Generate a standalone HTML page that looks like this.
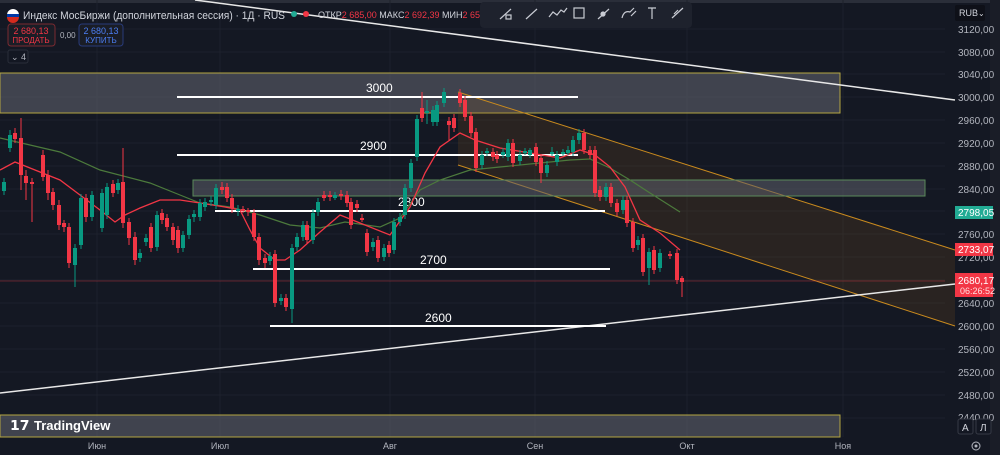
<!DOCTYPE html>
<html><head><meta charset="utf-8"><style>
html,body{margin:0;padding:0;background:#131722;}
body{width:1000px;height:455px;overflow:hidden;position:relative;font-family:"Liberation Sans",sans-serif;}
svg{position:absolute;left:0;top:0}
</style></head><body>
<svg width="1000" height="455" viewBox="0 0 1000 455" xmlns="http://www.w3.org/2000/svg">
<rect x="0" y="0" width="1000" height="455" fill="#141823"/>
<rect x="0" y="0" width="1000" height="3" fill="#2a2e39"/>
<rect x="990" y="0" width="10" height="455" fill="#1a1d27"/>
<g stroke="#1d212c" stroke-width="1">
<line x1="0" y1="29" x2="945" y2="29"/><line x1="0" y1="52" x2="945" y2="52"/><line x1="0" y1="74" x2="945" y2="74"/>
<line x1="0" y1="97" x2="945" y2="97"/><line x1="0" y1="120" x2="945" y2="120"/><line x1="0" y1="143" x2="945" y2="143"/>
<line x1="0" y1="166" x2="945" y2="166"/><line x1="0" y1="189" x2="945" y2="189"/><line x1="0" y1="211" x2="945" y2="211"/>
<line x1="0" y1="234" x2="945" y2="234"/><line x1="0" y1="257" x2="945" y2="257"/><line x1="0" y1="280" x2="945" y2="280"/>
<line x1="0" y1="303" x2="945" y2="303"/><line x1="0" y1="326" x2="945" y2="326"/><line x1="0" y1="349" x2="945" y2="349"/>
<line x1="0" y1="372" x2="945" y2="372"/><line x1="0" y1="395" x2="945" y2="395"/><line x1="0" y1="418" x2="945" y2="418"/>
<line x1="97" y1="0" x2="97" y2="437"/><line x1="220" y1="0" x2="220" y2="437"/><line x1="390" y1="0" x2="390" y2="437"/>
<line x1="535" y1="0" x2="535" y2="437"/><line x1="687" y1="0" x2="687" y2="437"/><line x1="843" y1="0" x2="843" y2="437"/>
</g>
<rect x="0" y="73" width="840" height="40" fill="#5d606b" fill-opacity="0.6" stroke="#b5a642" stroke-width="1"/>
<rect x="0" y="415" width="840" height="22" fill="#5d606b" fill-opacity="0.6" stroke="#b5a642" stroke-width="1"/>
<polygon points="458,92 955,250 955,326 458,165" fill="#8a5a1a" fill-opacity="0.18"/>
<line x1="458" y1="92" x2="955" y2="250" stroke="#c98a1e" stroke-width="1"/>
<line x1="458" y1="165" x2="955" y2="326" stroke="#c98a1e" stroke-width="1"/>
<rect x="193" y="180" width="732" height="16" fill="#5d606b" fill-opacity="0.55" stroke="#5a8a5a" stroke-width="1"/>
<line x1="0" y1="281" x2="945" y2="281" stroke="#f23645" stroke-opacity="0.35" stroke-width="1"/>
<line x1="195" y1="0" x2="955" y2="100" stroke="#e8e8e8" stroke-width="1.5"/>
<line x1="0" y1="393" x2="955" y2="284" stroke="#e8e8e8" stroke-width="1.5"/>
<g stroke="#ffffff" stroke-width="2">
<line x1="177" y1="97" x2="578" y2="97"/><line x1="177" y1="155" x2="578" y2="155"/>
<line x1="215" y1="211" x2="605" y2="211"/><line x1="253" y1="269" x2="610" y2="269"/>
<line x1="270" y1="326" x2="606" y2="326"/>
</g>
<g fill="#ffffff" font-size="12" font-family="Liberation Sans,sans-serif">
<text x="366" y="92">3000</text><text x="360" y="150">2900</text><text x="398" y="206">2800</text>
<text x="420" y="264">2700</text><text x="425" y="322">2600</text>
</g>
<polyline fill="none" stroke="#4c7a3c" stroke-width="1.2" points="0,138 30,145 60,152 100,170 150,183 180,195 200,203 230,207 260,215 290,225 320,228 345,222 380,227 400,218 420,190 440,180 470,170 500,167 540,163 570,160 590,159 610,168 630,180 650,193 680,212"/>
<polyline fill="none" stroke="#f23645" stroke-width="1.3" points="0,170 15,162 40,172 60,180 80,195 100,210 115,222 125,215 140,208 160,200 180,200 200,203 225,207 240,210 250,230 260,248 275,260 285,260 300,250 320,232 340,215 360,223 390,235 410,207 425,173 440,147 460,133 475,140 500,148 530,153 560,158 580,150 595,155 610,167 625,187 640,220 660,233 680,250"/>
<g>
<g fill="#089981" stroke="#089981">
<path d="M4 178V195M10 130V152M75 244V287M81 194V249M92 191V221M102 189V232M107 183V219M118 179V194M140 249V262M146 234V246M157 211V251M183 231V252M189 215V239M194 210V222M200 199V221M205 198V211M211 196V206M216 184V209M238 205V216M270 252V265M281 294V305M292 244V323M297 233V251M303 221V241M313 209V244M318 198V216M335 192V200M373 238V251M384 244V261M394 218V254M400 213V226M405 184V219M411 159V192M417 115V161M427 100V124M433 106V126M437 101V126M444 88V107M482 151V169M487 148V156M503 148V158M508 139V161M520 150V165M525 148V155M530 148V158M547 161V177M552 147V156M557 151V166M563 149V156M568 146V155M573 136V156M579 129V144M606 183V201M623 196V214M638 236V250M649 248V285M660 249V272"/>
</g>
<g fill="#089981">
<rect x="2" y="182" width="4" height="9"/><rect x="8" y="135" width="4" height="13"/><rect x="73" y="248" width="4" height="17"/><rect x="79" y="198" width="4" height="47"/><rect x="90" y="195" width="4" height="22"/><rect x="100" y="193" width="4" height="35"/><rect x="105" y="187" width="4" height="28"/><rect x="116" y="183" width="4" height="7"/><rect x="138" y="253" width="4" height="5"/><rect x="144" y="238" width="4" height="4"/><rect x="155" y="215" width="4" height="32"/><rect x="181" y="235" width="4" height="13"/><rect x="187" y="219" width="4" height="16"/><rect x="192" y="214" width="4" height="3"/><rect x="198" y="203" width="4" height="14"/><rect x="203" y="202" width="4" height="5"/><rect x="209" y="200" width="4" height="2"/><rect x="214" y="188" width="4" height="17"/><rect x="236" y="209" width="4" height="2"/><rect x="268" y="256" width="4" height="5"/><rect x="279" y="298" width="4" height="3"/><rect x="290" y="248" width="4" height="61"/><rect x="295" y="237" width="4" height="10"/><rect x="301" y="225" width="4" height="12"/><rect x="311" y="213" width="4" height="27"/><rect x="316" y="202" width="4" height="10"/><rect x="333" y="195" width="4" height="3"/><rect x="371" y="242" width="4" height="5"/><rect x="382" y="248" width="4" height="9"/><rect x="392" y="222" width="4" height="28"/><rect x="398" y="217" width="4" height="5"/><rect x="403" y="188" width="4" height="27"/><rect x="409" y="163" width="4" height="25"/><rect x="415" y="119" width="4" height="38"/><rect x="425" y="111" width="4" height="2"/><rect x="431" y="110" width="4" height="12"/><rect x="435" y="105" width="4" height="17"/><rect x="442" y="92" width="4" height="11"/><rect x="480" y="155" width="4" height="10"/><rect x="485" y="151" width="4" height="2"/><rect x="501" y="152" width="4" height="3"/><rect x="506" y="143" width="4" height="14"/><rect x="518" y="155" width="4" height="6"/><rect x="523" y="151" width="4" height="2"/><rect x="528" y="150" width="4" height="5"/><rect x="545" y="165" width="4" height="8"/><rect x="550" y="152" width="4" height="2"/><rect x="555" y="155" width="4" height="7"/><rect x="561" y="152" width="4" height="2"/><rect x="566" y="150" width="4" height="3"/><rect x="571" y="140" width="4" height="12"/><rect x="577" y="133" width="4" height="7"/><rect x="604" y="187" width="4" height="10"/><rect x="621" y="200" width="4" height="10"/><rect x="636" y="240" width="4" height="5"/><rect x="647" y="252" width="4" height="16"/><rect x="658" y="253" width="4" height="15"/>
</g>
<g stroke="#f23645">
<path d="M15 128V143M21 118V190M26 170V200M32 178V222M43 150V181M48 170V200M53 188V210M59 200V230M64 220V232M69 223V268M86 194V222M113 180V197M123 148V228M129 218V245M135 232V265M151 223V252M162 209V224M167 214V231M173 223V245M178 226V253M222 182V194M227 183V202M232 194V213M243 206V213M248 208V216M254 209V241M259 233V265M265 254V268M275 250V307M286 294V311M307 221V244M324 191V201M330 191V201M341 190V200M347 191V207M351 198V229M357 200V212M362 214V222M367 229V256M378 236V262M389 241V257M422 92V122M449 117V140M454 114V132M460 89V107M465 96V121M471 112V137M476 128V172M493 148V161M497 151V163M513 139V167M536 143V166M541 154V183M584 129V154M590 146V159M595 146V197M600 186V201M611 183V207M617 199V216M627 196V227M633 218V252M643 234V276M654 246V274M670 251V259M677 249V284M682 276V297"/>
</g>
<g fill="#f23645">
<rect x="13" y="133" width="4" height="6"/><rect x="19" y="138" width="4" height="37"/><rect x="24" y="176" width="4" height="7"/><rect x="30" y="182" width="4" height="2"/><rect x="41" y="155" width="4" height="22"/><rect x="46" y="175" width="4" height="18"/><rect x="51" y="192" width="4" height="13"/><rect x="57" y="205" width="4" height="20"/><rect x="62" y="223" width="4" height="4"/><rect x="67" y="227" width="4" height="36"/><rect x="84" y="198" width="4" height="19"/><rect x="111" y="184" width="4" height="9"/><rect x="121" y="182" width="4" height="41"/><rect x="127" y="222" width="4" height="16"/><rect x="133" y="237" width="4" height="23"/><rect x="149" y="227" width="4" height="21"/><rect x="160" y="213" width="4" height="7"/><rect x="165" y="218" width="4" height="9"/><rect x="171" y="227" width="4" height="13"/><rect x="176" y="230" width="4" height="18"/><rect x="220" y="187" width="4" height="3"/><rect x="225" y="187" width="4" height="11"/><rect x="230" y="198" width="4" height="10"/><rect x="241" y="209" width="4" height="2"/><rect x="246" y="210" width="4" height="2"/><rect x="252" y="213" width="4" height="24"/><rect x="257" y="237" width="4" height="23"/><rect x="263" y="258" width="4" height="5"/><rect x="273" y="254" width="4" height="49"/><rect x="284" y="298" width="4" height="9"/><rect x="305" y="225" width="4" height="15"/><rect x="322" y="195" width="4" height="3"/><rect x="328" y="195" width="4" height="2"/><rect x="339" y="194" width="4" height="2"/><rect x="345" y="195" width="4" height="8"/><rect x="349" y="202" width="4" height="23"/><rect x="355" y="204" width="4" height="4"/><rect x="360" y="218" width="4" height="2"/><rect x="365" y="233" width="4" height="19"/><rect x="376" y="240" width="4" height="18"/><rect x="387" y="245" width="4" height="8"/><rect x="420" y="108" width="4" height="10"/><rect x="447" y="121" width="4" height="4"/><rect x="452" y="118" width="4" height="10"/><rect x="458" y="93" width="4" height="10"/><rect x="463" y="100" width="4" height="17"/><rect x="469" y="116" width="4" height="17"/><rect x="474" y="132" width="4" height="36"/><rect x="491" y="152" width="4" height="5"/><rect x="495" y="155" width="4" height="4"/><rect x="511" y="143" width="4" height="20"/><rect x="534" y="147" width="4" height="15"/><rect x="539" y="158" width="4" height="15"/><rect x="582" y="133" width="4" height="17"/><rect x="588" y="150" width="4" height="5"/><rect x="593" y="150" width="4" height="43"/><rect x="598" y="190" width="4" height="7"/><rect x="609" y="187" width="4" height="16"/><rect x="615" y="203" width="4" height="9"/><rect x="625" y="200" width="4" height="23"/><rect x="631" y="222" width="4" height="26"/><rect x="641" y="238" width="4" height="34"/><rect x="652" y="250" width="4" height="20"/><rect x="668" y="254" width="4" height="2"/><rect x="675" y="253" width="4" height="27"/><rect x="680" y="278" width="4" height="4"/>
</g>
</g>
<g fill="#b2b5be" font-size="10" font-family="Liberation Sans,sans-serif">
<text x="958" y="33">3120,00</text><text x="958" y="56">3080,00</text><text x="958" y="78">3040,00</text>
<text x="958" y="101">3000,00</text><text x="958" y="124">2960,00</text><text x="958" y="147">2920,00</text>
<text x="958" y="170">2880,00</text><text x="958" y="193">2840,00</text><text x="958" y="238">2760,00</text>
<text x="958" y="261">2720,00</text><text x="958" y="307">2640,00</text><text x="958" y="330">2600,00</text>
<text x="958" y="353">2560,00</text><text x="958" y="376">2520,00</text><text x="958" y="399">2480,00</text>
<text x="958" y="421">2440,00</text>
</g>
<rect x="955" y="5" width="30" height="16" rx="2" fill="#0e1018"/>
<text x="959" y="16" fill="#d1d4dc" font-size="9">RUB</text><text x="978" y="16" fill="#d1d4dc" font-size="8">⌄</text>
<rect x="955" y="206" width="38" height="13" fill="#22ab94"/><text x="958" y="216" fill="#fff" font-size="10">2798,05</text>
<rect x="955" y="243" width="38" height="13" fill="#f23645"/><text x="958" y="253" fill="#fff" font-size="10">2733,07</text>
<rect x="955" y="273" width="38" height="24" fill="#f23645"/><text x="958" y="284" fill="#fff" font-size="10">2680,17</text><text x="960" y="294" fill="#ffdede" font-size="9">06:26:52</text>
<rect x="958" y="419" width="15" height="15" rx="2" fill="#131722" stroke="#363a45"/><text x="962" y="431" fill="#d1d4dc" font-size="10">A</text>
<rect x="976" y="419" width="15" height="15" rx="2" fill="#131722" stroke="#363a45"/><text x="980" y="431" fill="#d1d4dc" font-size="10">Л</text>
<circle cx="976" cy="446" r="4" fill="none" stroke="#b2b5be"/><circle cx="976" cy="446" r="1.5" fill="#b2b5be"/>
<g fill="#b2b5be" font-size="9" font-family="Liberation Sans,sans-serif" text-anchor="middle">
<text x="97" y="449">Июн</text><text x="220" y="449">Июл</text><text x="390" y="449">Авг</text>
<text x="535" y="449">Сен</text><text x="687" y="449">Окт</text><text x="843" y="449">Ноя</text>
</g>
<text x="10" y="430" fill="#ffffff" font-size="14" font-weight="bold">𝟭𝟳</text>
<text x="34" y="430" fill="#ffffff" font-size="13" font-weight="bold">TradingView</text>
<circle cx="13" cy="15" r="6" fill="#fff"/><path d="M7 15h12v2a6 6 0 0 1-12 0z" fill="#d52b1e"/><rect x="7" y="14" width="12" height="3" fill="#0039a6"/>
<text x="23" y="19" fill="#d1d4dc" font-size="11" textLength="262" lengthAdjust="spacingAndGlyphs">Индекс МосБиржи (дополнительная сессия) · 1Д · RUS</text>
<circle cx="294" cy="14" r="3" fill="#22ab94"/><circle cx="306" cy="14" r="3" fill="#f23645"/>
<text x="318" y="18" fill="#d1d4dc" font-size="9">ОТКР<tspan fill="#f23645">2 685,00</tspan> МАКС<tspan fill="#f23645">2 692,39</tspan> МИН<tspan fill="#f23645">2 651,1</tspan></text>
<rect x="8" y="24" width="47" height="22" rx="3" fill="#1a1d26" stroke="#7a2a30"/>
<text x="31" y="34" fill="#f23645" font-size="9" text-anchor="middle">2 680,13</text><text x="31" y="43" fill="#f23645" font-size="8" text-anchor="middle">ПРОДАТЬ</text>
<text x="60" y="38" fill="#b2b5be" font-size="8">0,00</text>
<rect x="79" y="24" width="44" height="22" rx="3" fill="#1a1d26" stroke="#283a7a"/>
<text x="101" y="34" fill="#4c7ef3" font-size="9" text-anchor="middle">2 680,13</text><text x="101" y="43" fill="#4c7ef3" font-size="8" text-anchor="middle">КУПИТЬ</text>
<rect x="8" y="50" width="20" height="13" rx="2" fill="#131722" stroke="#2a2e39"/><text x="11" y="60" fill="#b2b5be" font-size="9">⌄ 4</text>
<rect x="480" y="2" width="212" height="26" rx="4" fill="#1e222d"/>
<g stroke="#c8cbd3" stroke-width="1.2" fill="none">
<line x1="500" y1="19" x2="511" y2="9"/><rect x="506" y="15" width="5" height="4"/>
<line x1="526" y1="19" x2="537" y2="9"/>
<polyline points="549,17 553,12 557,15 561,10 564,12 567,8"/>
<rect x="574" y="8" width="10" height="10"/>
<line x1="598" y1="19" x2="609" y2="9"/><circle cx="603" cy="14" r="2" fill="#c8cbd3"/>
<path d="M622 18 Q624 10 630 12 L634 8 M631 16 L636 11"/>
<path d="M648 8h8M652 8v11"/>
<path d="M672 18 L683 8 M674 14 L678 10"/>
</g>
</svg>
</body></html>
